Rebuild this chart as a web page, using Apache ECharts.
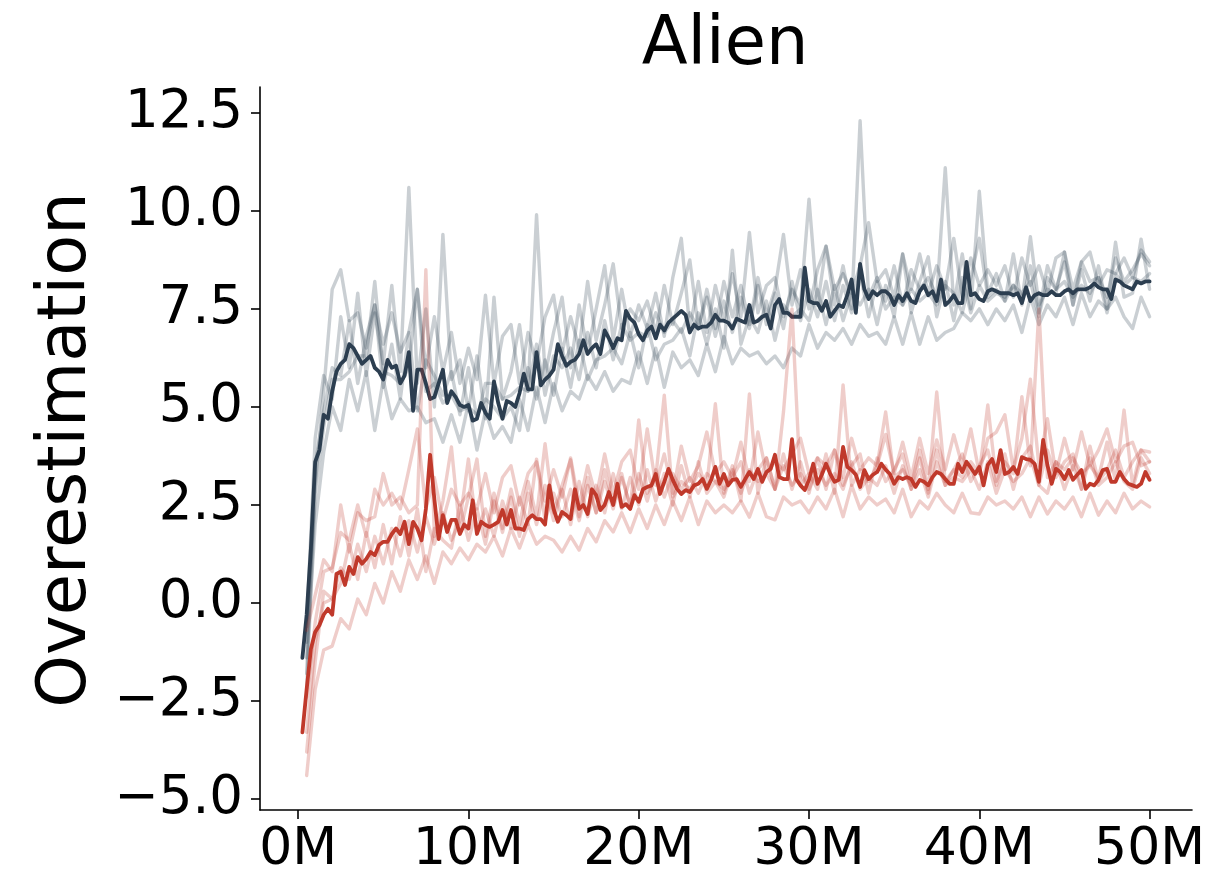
<!DOCTYPE html>
<html>
<head>
<meta charset="utf-8">
<title>Alien – Overestimation</title>
<script src="https://cdn.jsdelivr.net/npm/echarts@6/dist/echarts.min.js"></script>
<style>
  html, body { margin: 0; padding: 0; background: #ffffff; }
  #chart { width: 1215px; height: 879px; }
</style>
</head>
<body>
<div id="chart"></div>
<script>
// ---- data -----------------------------------------------------------------
// Mean curves: one value every 0.25M frames (0.25M ... 50M)
const MEAN_STEP = 0.25;
// Individual runs: one value every 0.5M frames (0.5M ... 50M)
const SEED_STEP = 0.5;

const TITLE = 'Alien';
const Y_NAME = 'Overestimation';
const X_TICKS = [0, 10, 20, 30, 40, 50];
const Y_TICKS = [-5, -2.5, 0, 2.5, 5, 7.5, 10, 12.5];

const navyMean = [
  -1.4, -0.3, 1.4, 3.6, 3.9, 4.8, 4.7, 5.4, 5.9, 6.1,
  6.2, 6.6, 6.5, 6.3, 6.1, 6.2, 6.3, 6.0, 5.9, 5.7,
  6.2, 6.0, 6.05, 5.6, 5.8, 6.4, 4.9, 5.95, 5.95, 5.6,
  5.2, 5.25, 5.6, 5.95, 5.1, 5.4, 5.25, 5.05, 5.0, 5.05,
  4.65, 4.7, 5.1, 4.85, 4.7, 5.65, 5.1, 4.7, 5.15, 5.1,
  5.0, 5.35, 5.85, 5.45, 5.45, 6.4, 5.55, 5.7, 5.8, 5.95,
  6.6, 6.3, 6.05, 6.15, 6.2, 6.35,
  6.7, 6.35, 6.5, 6.6, 6.35, 6.95, 6.75, 6.5, 6.75, 6.7,
  7.45, 7.25, 7.15, 6.85, 6.7, 6.95, 7.05, 6.75, 7.1, 6.95,
  7.15, 7.25, 7.35, 7.45, 7.35, 6.9, 7.1, 7.0, 7.05, 7.05,
  7.15, 7.35, 7.2, 7.2, 7.15, 7.0, 7.25, 7.2, 7.15, 7.6,
  7.15, 7.2, 7.3, 7.35, 7.0, 7.6, 7.75, 7.4, 7.4, 7.3,
  7.3, 7.3, 8.55, 7.7, 7.65, 7.65, 7.45, 7.7, 7.3, 7.45,
  7.6, 7.55, 7.85, 8.25, 7.4, 8.65,
  8.0, 7.75, 7.95, 7.85, 7.95, 7.95, 7.85, 7.6, 7.85, 7.7,
  7.9, 7.7, 7.65, 7.95, 8.1, 7.85, 7.95, 7.7, 8.25, 7.6,
  7.7, 7.85, 7.65, 7.65, 8.7, 7.85, 7.9, 7.75, 7.7, 7.95,
  8.0, 7.95, 7.9, 7.9, 7.9, 7.85, 7.9, 7.65, 8.05, 7.7,
  7.85, 7.9, 7.85, 7.85, 7.95, 7.85, 7.85, 7.95, 8.0, 7.9,
  8.0, 8.0, 8.0, 8.05, 8.15, 8.05, 8.0, 8.0, 7.75, 8.25,
  8.2, 8.1, 8.05, 8.0, 8.2, 8.15, 8.2, 8.2
];

const redMean = [
  -3.3, -2.2, -1.17, -0.74, -0.57, -0.3, -0.15, -0.3, 0.74, 0.8,
  0.46, 0.92, 0.74, 1.17, 1.0, 1.12, 1.3, 1.22, 1.48, 1.56,
  1.56, 1.76, 1.9, 1.76, 2.07, 1.5, 2.07, 1.9, 1.6, 2.4,
  3.78, 2.65, 1.63, 2.24, 1.81, 2.12, 2.12, 1.76, 2.0, 1.9,
  2.62, 1.76, 2.07, 1.99, 1.94, 2.0, 2.07, 2.37, 2.0, 2.37,
  1.9, 1.9, 1.86, 2.14, 2.24, 2.14, 2.14, 2.0, 3.0, 2.4,
  2.07, 2.32, 2.24, 2.14, 2.9, 2.4,
  2.5, 2.27, 2.9, 2.75, 2.37, 2.5, 2.83, 2.5, 3.04, 2.45,
  2.52, 2.4, 2.75, 2.58, 2.9, 2.96, 3.0, 3.29, 2.78, 3.09,
  3.42, 3.14, 2.91, 2.78, 2.88, 2.83, 3.0, 3.04, 3.16, 2.91,
  3.14, 3.47, 3.04, 3.29, 3.0, 3.14, 3.16, 2.96, 3.16, 3.34,
  3.16, 3.42, 3.09, 3.34, 3.42, 3.78, 3.21, 3.16, 3.16, 4.18,
  3.16, 3.0, 2.88, 3.14, 3.55, 3.04, 3.27, 3.55, 3.29, 3.09,
  3.14, 3.98, 3.47, 3.39, 3.27,
  2.96, 3.39, 3.16, 3.27, 3.34, 3.55, 3.4, 3.29, 3.04, 3.21,
  3.16, 3.21, 3.16, 2.96, 3.14, 3.09, 3.0, 3.21, 3.34, 3.29,
  3.16, 3.04, 3.04, 3.55, 3.34, 3.6, 3.45, 3.29, 3.47, 3.0,
  3.52, 3.67, 3.34, 3.9, 3.29, 3.34, 3.47, 3.29, 3.72, 3.67,
  3.65, 3.55, 3.09, 4.16, 3.52, 3.04, 3.42, 3.34, 3.16, 3.39,
  3.14, 3.27, 3.39, 2.91, 3.04, 3.0, 3.14, 3.39, 3.42, 3.09,
  3.09, 3.34, 3.16, 3.04, 3.0, 2.96, 3.04, 3.34, 3.14
];

const navySeedA = [
  -0.6, 4.2, 5.8, 5.2, 7.3, 6.0, 7.9, 5.8, 7.4, 6.1,
  8.1, 5.9, 10.6, 5.6, 7.5, 5.0, 9.4, 5.7, 6.2, 4.9,
  6.3, 4.7, 7.8, 5.2, 5.9, 7.1, 5.4, 9.9, 5.8, 6.9,
  7.8, 6.0, 7.6, 6.4, 7.5, 8.6, 6.7, 8.0, 6.8, 7.6,
  7.0, 7.9, 6.8, 8.3, 9.3, 7.0, 8.2, 6.9, 8.1, 7.2,
  8.4, 7.3, 9.45, 7.4, 8.1, 8.3, 7.3, 8.0, 7.6, 10.3,
  7.6, 9.1, 7.6, 8.6, 7.5, 12.3, 7.8, 8.3, 7.7, 8.6,
  7.6, 8.5, 8.0, 8.3, 7.8, 11.1, 7.6, 8.9, 7.5, 10.5,
  7.9, 8.4, 7.7, 8.9, 7.6, 8.6, 7.4, 8.6, 8.0, 8.7,
  7.6, 8.7, 8.2, 8.3, 7.8, 8.8, 8.2, 8.5, 8.9, 8.6
];
const navySeedB = [
  -1.0, 3.0, 5.4, 8.0, 8.5, 7.2, 7.4, 6.5, 7.6, 6.6,
  7.4, 6.4, 6.9, 8.0, 6.0, 7.3, 5.9, 6.9, 5.6, 6.5,
  5.7, 7.85, 5.6, 6.8, 7.1, 5.6, 6.9, 6.1, 7.3, 7.85,
  6.4, 7.3, 6.5, 8.2, 6.7, 7.6, 8.65, 7.0, 7.5, 7.2,
  7.7, 6.9, 8.1, 7.1, 7.9, 8.75, 7.0, 8.0, 7.0, 8.2,
  7.3, 8.1, 7.1, 8.3, 7.3, 8.0, 9.4, 7.6, 8.5, 7.5,
  8.5, 9.1, 8.0, 8.4, 7.9, 8.6, 9.7, 8.2, 8.5, 7.8,
  8.9, 8.0, 8.9, 7.9, 8.6, 8.0, 9.3, 7.8, 8.8, 8.1,
  8.5, 8.1, 8.6, 7.8, 8.8, 8.1, 8.6, 7.9, 8.8, 8.95,
  8.0, 8.7, 8.95, 8.1, 8.5, 8.4, 8.8, 8.3, 9.0, 8.7
];
const navySeedC = [
  -1.4, 2.0, 3.85, 5.0, 4.4, 5.7, 4.9, 5.9, 4.4, 5.7,
  4.7, 5.2, 4.9, 5.0, 4.6, 4.7, 4.1, 4.8, 4.1, 5.1,
  3.9, 4.9, 4.2, 4.5, 4.1, 5.2, 4.4, 5.5, 4.6, 5.6,
  4.9, 5.4, 5.2, 5.8, 5.45, 5.9, 5.4, 5.7, 5.6, 6.4,
  5.6, 6.5, 5.5, 6.4, 6.0, 6.2, 5.8, 6.6, 5.9, 6.8,
  6.1, 6.5, 6.3, 6.4, 6.1, 6.3, 6.0, 6.5, 6.3, 7.1,
  6.5, 6.9, 6.7, 7.0, 6.6, 7.1, 6.8, 6.9, 6.6, 7.3,
  6.6, 7.4, 6.6, 7.3, 6.7, 6.9, 7.0, 7.4, 7.2, 7.5,
  7.1, 7.5, 7.2, 7.6, 6.9, 7.8, 7.1, 7.6, 7.3, 7.8,
  7.1, 7.9, 7.3, 7.7, 7.5, 7.8, 7.3, 7.0, 7.8, 7.3
];
const navySeedD = [
  -1.8, 3.5, 4.9, 6.0, 5.8, 7.2, 5.6, 6.8, 7.6, 5.5,
  6.6, 5.2, 6.9, 4.9, 6.2, 5.8, 5.3, 5.9, 4.8, 6.0,
  4.7, 5.6, 5.6, 5.2, 5.3, 5.5, 5.4, 6.6, 5.3, 6.3,
  6.0, 6.5, 5.7, 6.9, 6.0, 7.2, 6.2, 7.1, 6.7, 6.9,
  6.8, 7.4, 6.9, 7.2, 6.9, 7.4, 7.0, 7.8, 6.8, 7.7,
  6.9, 7.8, 7.0, 8.1, 7.1, 7.9, 7.0, 8.2, 7.2, 8.0,
  7.3, 8.2, 7.2, 8.1, 7.4, 8.4, 7.3, 8.2, 7.5, 7.8,
  7.6, 8.0, 7.7, 7.9, 7.6, 8.1, 7.9, 7.4, 8.3, 9.3,
  7.8, 8.0, 7.7, 8.1, 7.9, 8.2, 7.3, 8.3, 8.0, 8.2,
  7.8, 8.1, 7.9, 8.3, 7.4, 8.4, 8.1, 8.3, 8.2, 8.4
];
const navySeedE = [
  -2.2, 2.8, 4.5, 5.7, 5.7, 5.9, 6.3, 6.3, 8.2, 5.9,
  5.8, 5.6, 6.0, 8.0, 5.4, 5.6, 5.1, 5.3, 4.9, 5.0,
  4.8, 5.2, 5.0, 4.7, 5.0, 4.4, 6.0, 5.2, 6.2, 5.3,
  6.5, 5.5, 6.7, 5.7, 6.2, 6.3, 6.5, 6.1, 6.9, 6.0,
  7.1, 6.2, 6.6, 6.7, 7.0, 6.3, 7.4, 6.6, 7.5, 6.5,
  9.0, 6.6, 7.3, 6.9, 7.7, 6.7, 7.6, 7.3, 7.5, 7.2,
  8.0, 7.1, 8.1, 7.2, 7.9, 7.6, 8.0, 7.1, 8.1, 7.3,
  8.9, 7.4, 8.2, 8.83, 7.3, 8.2, 7.2, 8.3, 7.4, 8.1,
  7.7, 7.9, 7.8, 8.1, 7.7, 9.34, 7.6, 8.0, 7.9, 8.95,
  7.6, 8.5, 7.7, 8.6, 7.5, 9.2, 7.8, 7.9, 9.28, 8.0
];

const redSeedA = [
  -0.7, 0.2, 1.1, 0.8, 2.5, 1.3, 2.3, 2.1, 2.2, 3.3,
  2.5, 2.7, 2.3, 2.5, 8.5, 1.7, 2.6, 3.98, 1.8, 2.7,
  3.67, 1.7, 2.8, 1.9, 2.9, 2.0, 3.1, 2.2, 4.06, 2.3,
  3.0, 3.65, 2.2, 3.2, 2.3, 3.4, 2.5, 3.3, 2.4, 4.67,
  2.8, 3.2, 5.3, 2.7, 3.1, 2.9, 3.3, 3.0, 5.08, 2.8,
  3.5, 2.6, 5.33, 2.8, 3.7, 2.9, 4.87, 7.5, 3.0, 3.3,
  2.9, 3.8, 2.8, 5.56, 3.0, 3.4, 3.1, 3.5, 4.87, 3.2,
  3.4, 3.0, 3.9, 2.9, 5.38, 3.1, 3.4, 3.2, 3.6, 3.3,
  5.05, 3.1, 3.6, 3.3, 5.26, 3.5, 7.5, 3.2, 3.6, 3.4,
  3.7, 3.3, 3.5, 3.2, 4.1, 3.1, 4.92, 3.0, 3.9, 3.85
];
const redSeedB = [
  -2.4, -0.5, 0.8, 0.9, 1.8, 1.6, 2.5, 1.7, 2.9, 2.5,
  2.8, 2.4, 3.4, 4.44, 2.4, 3.2, 2.1, 2.9, 2.5, 2.8,
  2.4, 3.3, 2.3, 3.2, 3.5, 2.5, 3.3, 3.6, 2.6, 3.4,
  2.7, 3.7, 2.5, 3.5, 2.7, 3.8, 2.8, 3.6, 3.9, 2.9,
  4.44, 3.0, 3.8, 2.8, 4.0, 3.1, 3.5, 4.36, 3.3, 3.6,
  3.2, 4.1, 3.1, 4.36, 3.3, 3.6, 3.4, 3.8, 4.2, 3.3,
  3.7, 3.5, 3.9, 3.2, 4.2, 3.4, 3.7, 3.5, 4.3, 3.3,
  4.1, 3.2, 4.2, 3.3, 4.16, 3.4, 4.29, 3.5, 4.44, 3.3,
  4.2, 4.36, 4.8, 3.4, 4.2, 5.71, 3.5, 4.7, 3.3, 4.2,
  3.4, 4.36, 3.5, 3.9, 4.44, 3.6, 4.0, 4.1, 3.5, 3.6
];
const redSeedC = [
  -4.4, -2.2, -1.2, -1.1, -0.4, -0.66, 0.1, -0.3, 0.5, 0.0,
  0.8, 0.3, 1.1, 0.6, 1.2, 0.5, 1.3, 1.0, 1.4, 1.1,
  1.5, 1.3, 1.7, 1.2, 1.9, 1.4, 2.0, 1.5, 1.7, 1.6,
  1.3, 1.7, 1.35, 1.9, 1.56, 2.1, 1.81, 2.3, 1.8, 2.4,
  1.9, 2.5, 2.0, 2.6, 2.1, 2.7, 2.0, 2.6, 2.3, 2.5,
  2.3, 2.6, 2.19, 2.8, 2.2, 2.12, 2.7, 2.5, 2.6, 2.3,
  2.7, 2.4, 2.9, 2.2, 3.0, 2.4, 2.7, 2.5, 2.65, 2.3,
  2.9, 2.2, 2.6, 2.4, 2.8, 2.5, 2.3, 2.8, 2.3, 2.27,
  2.7, 2.5, 2.6, 2.4, 2.7, 2.2, 2.7, 2.27, 2.6, 2.4,
  2.7, 2.2, 2.8, 2.24, 2.6, 2.3, 2.8, 2.4, 2.6, 2.45
];
const redSeedD = [
  -3.3, -1.0, 0.0, 0.1, 0.9, 0.6, 1.5, 0.8, 1.7, 1.0,
  1.9, 1.2, 2.1, 1.3, 2.2, 1.5, 2.3, 1.6, 2.1, 3.67,
  1.8, 2.4, 1.7, 2.6, 1.9, 2.7, 2.0, 3.67, 2.1, 2.8,
  2.2, 2.9, 2.1, 3.0, 2.3, 3.1, 2.4, 3.2, 2.5, 3.3,
  2.6, 3.4, 2.7, 3.3, 2.9, 3.2, 2.8, 3.3, 3.1, 2.7,
  3.4, 2.8, 3.4, 3.1, 3.3, 2.9, 3.5, 3.0, 3.3, 2.9,
  3.4, 3.0, 3.3, 2.9, 3.6, 2.9, 3.2, 3.0, 3.5, 2.8,
  3.5, 2.9, 3.4, 2.7, 3.6, 3.0, 3.2, 3.1, 3.4, 2.9,
  3.6, 2.8, 3.4, 3.1, 3.3, 3.7, 3.0, 2.8, 3.6, 2.9,
  3.5, 2.9, 3.7, 3.0, 3.2, 3.6, 3.1, 2.9, 3.7, 3.3
];
const redSeedE = [
  -3.8, -1.5, 0.3, 0.1, 0.5, 1.5, 0.6, 1.8, 0.9, 2.0,
  1.0, 2.2, 1.2, 2.4, 0.8, 1.9, 1.6, 1.4, 2.5, 1.6,
  2.4, 1.5, 2.6, 1.8, 2.7, 1.7, 2.8, 2.0, 3.0, 2.1,
  2.9, 2.0, 3.1, 2.2, 3.0, 2.3, 3.3, 2.4, 3.2, 2.5,
  3.4, 2.6, 3.3, 2.5, 3.5, 2.7, 3.6, 2.8, 3.1, 2.9,
  3.2, 3.6, 2.8, 3.4, 3.7, 2.9, 3.8, 2.9, 3.6, 2.8,
  3.7, 2.9, 3.9, 3.0, 3.5, 3.8, 2.8, 3.7, 3.1, 3.4,
  3.8, 2.9, 3.7, 2.8, 3.9, 3.0, 3.4, 3.8, 3.1, 3.5,
  3.9, 3.0, 3.8, 2.9, 3.7, 4.0, 3.0, 3.9, 3.2, 3.6,
  3.8, 2.9, 4.0, 3.1, 3.4, 3.9, 3.2, 3.6, 3.9, 3.6
];

const navySeeds = [navySeedA, navySeedB, navySeedC, navySeedD, navySeedE];
const redSeeds = [redSeedA, redSeedB, redSeedC, redSeedD, redSeedE];

// ---- styling ---------------------------------------------------------------
const NAVY = '#2c3e50';
const RED = '#c0392b';
const FONT = '"DejaVu Sans", "Liberation Sans", sans-serif';

function pairs(values, step) {
  return values.map((v, i) => [(i + 1) * step, v]);
}

function lineSeries(values, step, color, opacity, width, z) {
  return {
    type: 'line',
    data: pairs(values, step),
    showSymbol: false,
    symbol: 'none',
    silent: true,
    z: z,
    lineStyle: { color: color, width: width, opacity: opacity, cap: 'round', join: 'round' },
    emphasis: { disabled: true }
  };
}

// runs first, then the mean on top; the red group is drawn over the navy group
const series = [];
navySeeds.forEach(s => series.push(lineSeries(s, SEED_STEP, NAVY, 0.25, 3.4, 2)));
series.push(lineSeries(navyMean, MEAN_STEP, NAVY, 1, 3.8, 3));
redSeeds.forEach(s => series.push(lineSeries(s, SEED_STEP, RED, 0.25, 3.4, 4)));
series.push(lineSeries(redMean, MEAN_STEP, RED, 1, 3.8, 5));

const fmtY = v => (v < 0 ? '\u2212' : '') + Math.abs(v).toFixed(1);

const chart = echarts.init(document.getElementById('chart'), null, { renderer: 'canvas' });
chart.setOption({
  animation: false,
  backgroundColor: '#ffffff',
  grid: { left: 260, right: 23, top: 87, bottom: 69, containLabel: false, outerBoundsMode: 'none' },
  xAxis: {
    type: 'value',
    min: -2.24,
    max: 52.49,
    splitLine: { show: false },
    axisLine: { show: true, onZero: false, lineStyle: { color: '#000', width: 1.6 } },
    axisTick: { show: true, customValues: X_TICKS, length: 9, lineStyle: { color: '#000', width: 1.6 } },
    axisLabel: {
      customValues: X_TICKS,
      formatter: v => v + 'M',
      color: '#000',
      fontFamily: FONT,
      fontSize: 52,
      margin: 14
    }
  },
  yAxis: {
    type: 'value',
    min: -5.28,
    max: 13.16,
    splitLine: { show: false },
    axisLine: { show: true, onZero: false, lineStyle: { color: '#000', width: 1.6 } },
    axisTick: { show: true, customValues: Y_TICKS, length: 9, lineStyle: { color: '#000', width: 1.6 } },
    axisLabel: {
      customValues: Y_TICKS,
      formatter: fmtY,
      color: '#000',
      fontFamily: FONT,
      fontSize: 53,
      margin: 17
    }
  },
  graphic: [
    {
      type: 'text',
      x: 725,
      y: 47,
      style: {
        text: TITLE,
        fill: '#000',
        font: '67px ' + FONT,
        textAlign: 'center',
        textVerticalAlign: 'middle'
      }
    },
    {
      type: 'text',
      x: 68,
      y: 450,
      rotation: Math.PI / 2,
      style: {
        text: Y_NAME,
        fill: '#000',
        font: '67px ' + FONT,
        textAlign: 'center',
        textVerticalAlign: 'middle'
      }
    }
  ],
  series: series
});
</script>
</body>
</html>
